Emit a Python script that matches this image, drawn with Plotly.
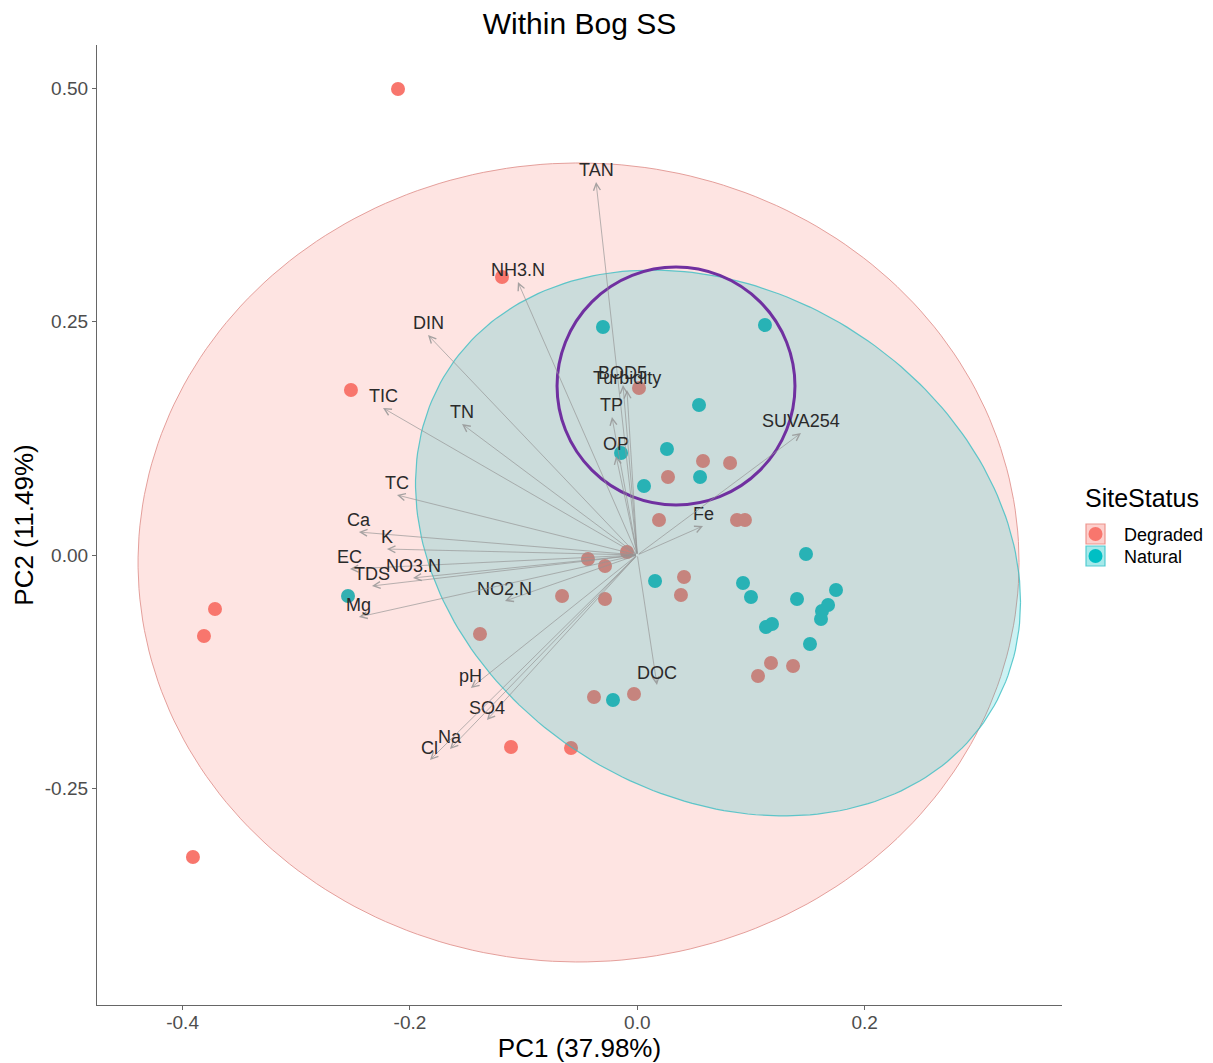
import numpy as np
import plotly.graph_objects as go

# ---------------- data ----------------
degraded_pc1 = [-0.2105, -0.1190, -0.2519, -0.3715, -0.3812, -0.3909, -0.1111, -0.0583,
                -0.1384, 0.0015, 0.0578, 0.0816, 0.0270, 0.0191, 0.0877, 0.0947,
                -0.0091, -0.0434, -0.0284, 0.0411, 0.0384, -0.0284, -0.0662, 0.1176,
                0.1062, 0.1370, -0.0381, -0.0029]
degraded_pc2 = [0.4993, 0.2979, 0.1768, -0.0579, -0.0868, -0.3236, -0.2057, -0.2068,
                -0.0846, 0.1789, 0.1007, 0.0986, 0.0836, 0.0375, 0.0375, 0.0375,
                0.0032, -0.0043, -0.0118, -0.0236, -0.0429, -0.0471, -0.0439, -0.1157,
                -0.1296, -0.1189, -0.1521, -0.1489]

natural_pc1 = [-0.0302, 0.1123, 0.0543, 0.0261, -0.0143, 0.0552, 0.0059, -0.2545,
               0.0156, 0.1484, 0.0930, 0.1000, 0.1405, 0.1748, 0.1678, 0.1625,
               0.1616, 0.1132, 0.1185, 0.1519, -0.0214]
natural_pc2 = [0.2443, 0.2464, 0.1607, 0.1136, 0.1093, 0.0836, 0.0739, -0.0439,
               -0.0279, 0.0011, -0.0300, -0.0450, -0.0471, -0.0375, -0.0536, -0.0600,
               -0.0686, -0.0771, -0.0739, -0.0954, -0.1554]

variables = ["TAN", "NH3.N", "DIN", "TIC", "TN", "TC", "Ca", "K", "EC", "TDS",
             "NO3.N", "NO2.N", "Mg", "pH", "SO4", "Na", "Cl", "DOC", "Fe",
             "SUVA254", "OP", "TP", "BOD5", "Turbidity"]
loading_pc1 = [-0.0363, -0.1050, -0.1841, -0.2237, -0.1542, -0.2114, -0.2449, -0.2202,
               -0.2528, -0.2334, -0.1973, -0.1164, -0.2449, -0.1464, -0.1323, -0.1648,
               -0.1824, 0.0173, 0.0578, 0.1440, -0.0187, -0.0223, -0.0126, -0.0091]
loading_pc2 = [0.3997, 0.2925, 0.2357, 0.1575, 0.1404, 0.0643, 0.0246, 0.0064,
               -0.0150, -0.0332, -0.0246, -0.0493, -0.0664, -0.1425, -0.1768, -0.2079,
               -0.2196, -0.1393, 0.0311, 0.1307, 0.1061, 0.1479, 0.1821, 0.1768]

groups = ["Degraded", "Natural"]
group_colors = ["#F8766D", "#00BFC4"]

# confidence ellipses (center, covariance-like shape matrix)
degraded_ellipse_center = [-0.0517, -0.0080]
degraded_ellipse_shape = [[0.15016, 0.0], [0.0, 0.18327]]
natural_ellipse_center = [0.0710, 0.0129]
natural_ellipse_shape = [[0.07082, -0.016873], [-0.016873, 0.08556]]

# highlight circle bounds (x0, x1, y0, y1)
highlight_circle = [-0.0706, 0.1387, 0.0536, 0.3086]

x_ticks = [-0.4, -0.2, 0.0, 0.2]
y_ticks = [-0.25, 0.0, 0.25, 0.50]

FONT = "Liberation Sans, Arial, sans-serif"

# page layout (the html body adds an 8px offset)
BODY = 8
PLOT_L, PLOT_R, PLOT_T, PLOT_B = 97, 1062, 45, 1005   # plot area in window pixels
W, H = 1213 - BODY, 1063 - BODY


def ellipse_path(center, shape, n=240):
    L = np.linalg.cholesky(np.array(shape))
    t = np.linspace(0, 2 * np.pi, n)
    pts = L @ np.vstack([np.cos(t), np.sin(t)])
    return pts[0] + center[0], pts[1] + center[1]


def paper(px, py):
    return ((px - PLOT_L) / (PLOT_R - PLOT_L), (PLOT_B - py) / (PLOT_B - PLOT_T))


fig = go.Figure()

# points (drawn under the ellipses)
fig.add_trace(go.Scatter(x=degraded_pc1, y=degraded_pc2, mode="markers",
                         marker=dict(color=group_colors[0], size=14), name=groups[0]))
fig.add_trace(go.Scatter(x=natural_pc1, y=natural_pc2, mode="markers",
                         marker=dict(color=group_colors[1], size=14), name=groups[1]))

# ellipses
ex, ey = ellipse_path(degraded_ellipse_center, degraded_ellipse_shape)
fig.add_trace(go.Scatter(x=ex, y=ey, mode="lines", fill="toself",
                         fillcolor="rgba(248,118,109,0.2)",
                         line=dict(color="rgba(225,150,145,0.9)", width=1),
                         hoverinfo="skip"))
ex, ey = ellipse_path(natural_ellipse_center, natural_ellipse_shape)
fig.add_trace(go.Scatter(x=ex, y=ey, mode="lines", fill="toself",
                         fillcolor="rgba(0,191,196,0.2)",
                         line=dict(color="rgba(60,190,195,0.8)", width=1.2),
                         hoverinfo="skip"))

# arrows and labels
for name, lx, ly in zip(variables, loading_pc1, loading_pc2):
    fig.add_annotation(x=lx, y=ly, ax=0, ay=0, xref="x", yref="y", axref="x", ayref="y",
                       text="", showarrow=True, arrowhead=5, arrowsize=1.7,
                       arrowwidth=0.8, arrowcolor="rgba(150,150,150,0.85)", standoff=0)
    fig.add_annotation(x=lx, y=ly, xref="x", yref="y", text=name, showarrow=False,
                       yshift=12, font=dict(family=FONT, size=18, color="#2a2a2a"))

# highlight circle
fig.add_shape(type="circle", xref="x", yref="y",
              x0=highlight_circle[0], x1=highlight_circle[1],
              y0=highlight_circle[2], y1=highlight_circle[3],
              line=dict(color="#7030A0", width=3), layer="above")

# manual legend (ggplot style keys)
tx, ty = paper(1083, 498)
fig.add_annotation(x=tx, y=ty, xref="paper", yref="paper", text="SiteStatus",
                   showarrow=False, xanchor="left", yanchor="middle",
                   font=dict(family=FONT, size=25, color="#000000"))
key_fill = ["rgba(248,118,109,0.35)", "rgba(0,191,196,0.35)"]
key_line = ["rgba(235,140,132,0.9)", "rgba(70,200,205,0.9)"]
for i, (g, col) in enumerate(zip(groups, group_colors)):
    cy = 534 + 22 * i
    x0, y0 = paper(1086, cy - 10)
    x1, y1 = paper(1105, cy + 10)
    fig.add_shape(type="rect", xref="paper", yref="paper", x0=x0, x1=x1, y0=y1, y1=y0,
                  fillcolor=key_fill[i], line=dict(color=key_line[i], width=1.2))
    c0x, c0y = paper(1088.5, cy - 7)
    c1x, c1y = paper(1102.5, cy + 7)
    fig.add_shape(type="circle", xref="paper", yref="paper", x0=c0x, x1=c1x, y0=c1y, y1=c0y,
                  fillcolor=col, line=dict(width=0))
    lx, ly = paper(1122, cy + 1)
    fig.add_annotation(x=lx, y=ly, xref="paper", yref="paper", text=g, showarrow=False,
                       xanchor="left", yanchor="middle",
                       font=dict(family=FONT, size=18, color="#000000"))

fig.update_layout(
    width=W, height=H,
    margin=dict(l=PLOT_L - BODY, r=W - (PLOT_R - BODY), t=PLOT_T - BODY, b=H - (PLOT_B - BODY)),
    paper_bgcolor="white", plot_bgcolor="white",
    showlegend=False,
    font=dict(family=FONT, color="#000000"),
    title=dict(text="Within Bog SS", x=0.5, xref="paper", xanchor="center",
               y=1 - 15 / H, yanchor="middle", font=dict(size=30, color="#000000")),
    xaxis=dict(range=[-0.4753, 0.3736], tickvals=x_ticks,
               ticktext=[f"{v:.1f}" for v in x_ticks], automargin=False,
               showgrid=False, zeroline=False, showline=True, linecolor="#666666",
               linewidth=1.3, ticks="outside", ticklen=4, tickcolor="#666666",
               ticklabelstandoff=-4,
               tickfont=dict(size=19, color="#4D4D4D"),
               title=dict(text="PC1 (37.98%)", font=dict(size=26, color="#000000"), standoff=8)),
    yaxis=dict(range=[-0.4822, 0.5465], tickvals=y_ticks,
               ticktext=[f"{v:.2f}" for v in y_ticks], automargin=False,
               showgrid=False, zeroline=False, showline=True, linecolor="#666666",
               linewidth=1.3, ticks="outside", ticklen=4, tickcolor="#666666",
               tickfont=dict(size=19, color="#4D4D4D"),
               title=dict(text="PC2 (11.49%)", font=dict(size=26, color="#000000"), standoff=3)),
)

fig.write_html("out.html")
